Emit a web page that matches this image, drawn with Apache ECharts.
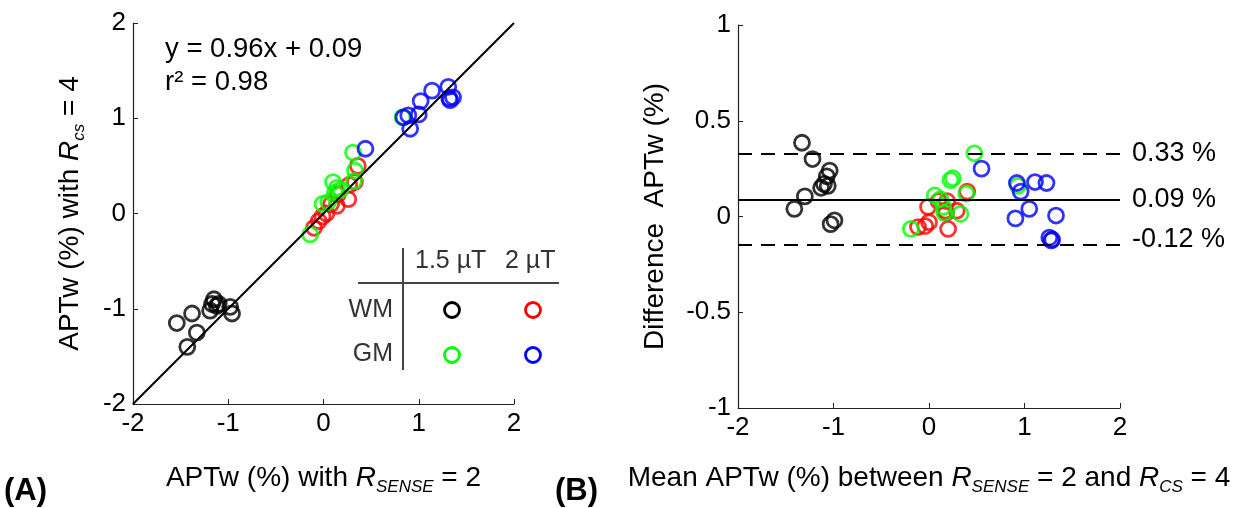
<!DOCTYPE html>
<html>
<head>
<meta charset="utf-8">
<script src="https://cdn.jsdelivr.net/npm/echarts@6/dist/echarts.min.js"></script>
<style>
  html, body { margin: 0; padding: 0; background: #fff; }
  #chart { width: 1235px; height: 508px; }
</style>
</head>
<body>
<div id="chart"></div>
<script>
// ---- (A) APTw with R_SENSE = 2 (x) vs R_CS = 4 (y) ----
const wm15Left = [[-1.54, -1.15], [-1.38, -1.05], [-1.33, -1.25], [-1.43, -1.40], [-1.15, -0.90], [-1.17, -0.95],
  [-1.19, -1.02], [-1.12, -0.97], [-0.98, -0.98], [-0.96, -1.05], [-1.10, -0.95]]
const wm2Left = [[-0.10, -0.15], [-0.05, -0.08], [-0.01, -0.03], [0.03, 0.00], [0.08, 0.10], [0.14, 0.08],
  [0.15, 0.20], [0.26, 0.15], [0.27, 0.30], [0.33, 0.33], [0.36, 0.50]]
const gm15Left = [[-0.14, -0.22], [-0.01, 0.10], [0.05, 0.12], [0.10, 0.33], [0.14, 0.27], [0.12, 0.22],
  [0.18, 0.25], [0.32, 0.34], [0.33, 0.45], [0.31, 0.64], [0.83, 1.01]]
const gm2Left = [[0.44, 0.68], [0.84, 1.01], [0.89, 1.03], [0.91, 0.89], [1.00, 1.04], [1.02, 1.18],
  [1.14, 1.29], [1.31, 1.33], [1.33, 1.19], [1.36, 1.22], [1.32, 1.21]]
const identityLine = [[-2, -2], [2, 2]]

// ---- (B) Bland-Altman: mean (x) vs difference (y) ----
const wm15Right = [[-1.33, 0.385], [-1.22, 0.30], [-1.04, 0.24], [-1.07, 0.21], [-1.10, 0.17], [-1.06, 0.16],
  [-1.13, 0.15], [-1.30, 0.105], [-1.41, 0.04], [-0.99, -0.02], [-1.03, -0.04]]
const wm2Right = [[-0.115, -0.055], [-0.04, -0.05], [-0.01, 0.05], [0.10, 0.08], [0.19, 0.08], [0.17, 0.03],
  [0.18, 0.02], [0.29, 0.03], [0.20, -0.065], [0.40, 0.13], [0.00, -0.03]]
const gm15Right = [[-0.19, -0.065], [0.06, 0.11], [0.225, 0.19], [0.25, 0.20], [0.33, 0.014], [0.15, 0.05],
  [0.16, 0.02], [0.39, 0.12], [0.475, 0.33], [0.93, 0.16], [0.12, 0.09]]
const gm2Right = [[0.55, 0.25], [0.92, 0.175], [0.96, 0.13], [1.11, 0.18], [1.23, 0.175], [1.05, 0.04],
  [0.905, -0.01], [1.33, 0.005], [1.26, -0.11], [1.29, -0.12], [1.28, -0.125]]

const meanDiff = 0.09
const upperLimit = 0.325
const lowerLimit = -0.15
const limitLabels = ['0.33 %', '0.09 %', '-0.12 %']
const limitLabelValues = [0.33, 0.09, -0.12]

const FONT = 'Liberation Sans, Arial, Helvetica, sans-serif'
const colors = { wm15: '#000000', wm2: '#ff0000', gm15: '#00ff00', gm2: '#0000ff' }

const chart = echarts.init(document.getElementById('chart'))

// 空心圆散点
const scatter = (data, color, idx) => ({
  type: 'scatter',
  xAxisIndex: idx,
  yAxisIndex: idx,
  data,
  symbol: 'circle',
  symbolSize: 15,
  itemStyle: { color: 'rgba(0,0,0,0)', borderColor: color, borderWidth: 2.8 },
  silent: true,
  z: 3
})

const subRich = {
  n: { fontSize: 28, lineHeight: 36, fontFamily: FONT, color: '#000', verticalAlign: 'middle' },
  i: { fontSize: 28, lineHeight: 36, fontFamily: FONT, color: '#000', fontStyle: 'italic', verticalAlign: 'middle' },
  s: { fontSize: 17, lineHeight: 17, fontFamily: FONT, color: '#000', fontStyle: 'italic', verticalAlign: 'bottom' }
}

const axisCommon = {
  type: 'value',
  axisLine: { show: true, onZero: false, lineStyle: { color: '#222', width: 1.2 } },
  axisTick: { show: true, inside: true, length: 5, lineStyle: { color: '#222' } },
  axisLabel: { color: '#000', fontSize: 26, fontFamily: FONT, margin: 7 },
  splitLine: { show: false },
  nameLocation: 'middle',
  nameTextStyle: { rich: subRich }
}

const option = {
  animation: false,
  backgroundColor: '#fff',
  grid: [
    { left: 133, top: 23, width: 381, height: 381 },
    { left: 738, top: 25, width: 382, height: 383 }
  ],
  xAxis: [
    { ...axisCommon, gridIndex: 0, min: -2, max: 2, interval: 1,
      name: '{n|APTw (%) with }{i|R}{s|SENSE}{n| = 2}', nameGap: 56 },
    { ...axisCommon, gridIndex: 1, min: -2, max: 2, interval: 1,
      name: '{n|Mean APTw (%) between }{i|R}{s|SENSE}{n| = 2 and }{i|R}{s|CS}{n| = 4}', nameGap: 52 }
  ],
  yAxis: [
    { ...axisCommon, gridIndex: 0, min: -2, max: 2, interval: 1,
      name: '{n|APTw (%) with }{i|R}{s|cs}{n| = 4}', nameGap: 45 },
    { ...axisCommon, gridIndex: 1, min: -1, max: 1, interval: 0.5,
      name: '{n|Difference  APTw (%)}', nameGap: 65 }
  ],
  series: [
    scatter(wm15Left, colors.wm15, 0),
    scatter(wm2Left, colors.wm2, 0),
    scatter(gm15Left, colors.gm15, 0),
    scatter(gm2Left, colors.gm2, 0),
    {
      type: 'line', xAxisIndex: 0, yAxisIndex: 0, data: identityLine,
      showSymbol: false, silent: true, z: 4,
      lineStyle: { color: '#000', width: 2 }
    },
    scatter(wm15Right, colors.wm15, 1),
    scatter(wm2Right, colors.wm2, 1),
    scatter(gm15Right, colors.gm15, 1),
    scatter(gm2Right, colors.gm2, 1),
    {
      type: 'line', xAxisIndex: 1, yAxisIndex: 1, data: [], silent: true,
      markLine: {
        symbol: 'none', silent: true, label: { show: false },
        data: [
          { yAxis: upperLimit, lineStyle: { type: [14, 9], color: '#000', width: 2 } },
          { yAxis: meanDiff, lineStyle: { type: 'solid', color: '#000', width: 2 } },
          { yAxis: lowerLimit, lineStyle: { type: [14, 9], color: '#000', width: 2 } }
        ]
      }
    }
  ]
}

chart.setOption(option)

// 文字注释：回归方程、图例表格、界限标签、面板编号
const txt = (x, y, text, extra) => ({
  type: 'text', x, y, silent: true,
  style: Object.assign({ text, fill: '#000', font: '27px ' + FONT, textVerticalAlign: 'middle' }, extra || {})
})

const legendFont = '25px ' + FONT
const graphics = [
  txt(165, 49, 'y = 0.96x + 0.09', { font: '27.5px ' + FONT }),
  txt(165, 82, 'r\u00b2 = 0.98', { font: '27.5px ' + FONT }),
  // legend table
  { type: 'line', silent: true, shape: { x1: 403, y1: 248, x2: 403, y2: 370 }, style: { stroke: '#444', lineWidth: 2 } },
  { type: 'line', silent: true, shape: { x1: 358, y1: 283, x2: 559, y2: 283 }, style: { stroke: '#444', lineWidth: 2 } },
  txt(415, 261, '1.5 \u00b5T', { fill: '#333', font: legendFont }),
  txt(505, 261, '2 \u00b5T', { fill: '#333', font: legendFont }),
  txt(393, 310, 'WM', { fill: '#333', textAlign: 'right', font: legendFont }),
  txt(393, 354, 'GM', { fill: '#333', textAlign: 'right', font: legendFont }),
  { type: 'circle', silent: true, shape: { cx: 452, cy: 310, r: 7.5 }, style: { fill: 'none', stroke: colors.wm15, lineWidth: 2.8 } },
  { type: 'circle', silent: true, shape: { cx: 533, cy: 310, r: 7.5 }, style: { fill: 'none', stroke: colors.wm2, lineWidth: 2.8 } },
  { type: 'circle', silent: true, shape: { cx: 452, cy: 355, r: 7.5 }, style: { fill: 'none', stroke: colors.gm15, lineWidth: 2.8 } },
  { type: 'circle', silent: true, shape: { cx: 533, cy: 355, r: 7.5 }, style: { fill: 'none', stroke: colors.gm2, lineWidth: 2.8 } },
  txt(4, 491, '(A)', { font: 'bold 31px ' + FONT }),
  txt(555, 491, '(B)', { font: 'bold 31px ' + FONT })
]

limitLabels.forEach((label, k) => {
  const p = chart.convertToPixel({ gridIndex: 1 }, [2, limitLabelValues[k]])
  graphics.push(txt(p[0] + 12, p[1], label))
})

chart.setOption({ graphic: graphics })
</script>
</body>
</html>
